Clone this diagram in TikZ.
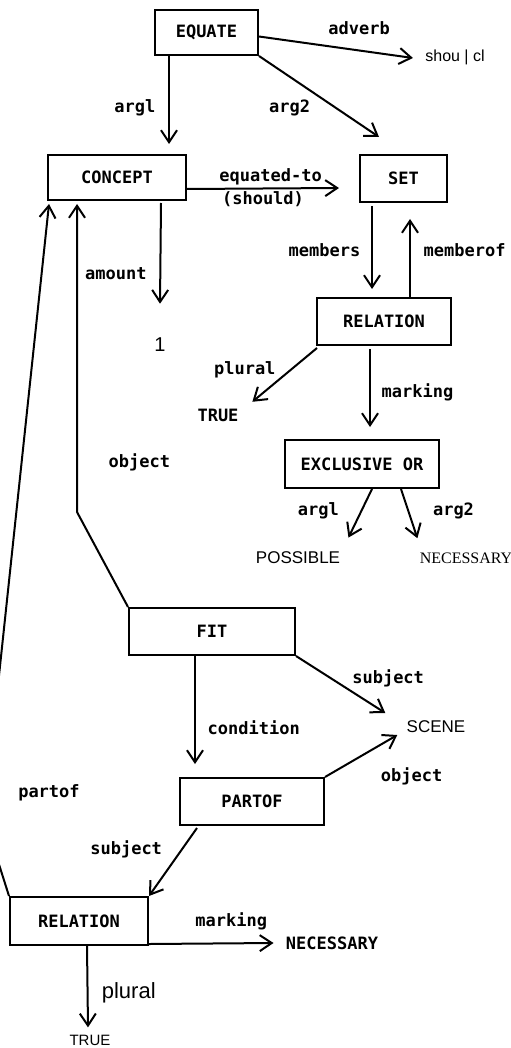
\documentclass[tikz,border=0pt]{standalone}
\usepackage{fontspec}
\setmonofont{DejaVu Sans Mono}
\newfontfamily\arialf{Liberation Sans}
\newfontfamily\timesf{Liberation Serif}
\usetikzlibrary{arrows.meta,calc}

\begin{document}
\begin{tikzpicture}[x=0.5pt, y=-0.5pt,
  font=\ttfamily\bfseries\fontsize{8.5}{10}\selectfont,
  box/.style={draw, line width=1pt, minimum height=23.5pt, inner sep=0pt},
  sans/.style={inner sep=0pt, font=\arialf\fontsize{8.5}{10}\selectfont},
  arr/.style={line width=1pt, -{Straight Barb[length=6pt,width=8pt]}}]
\useasboundingbox (0,0) rectangle (510,1048);
\clip (0,0) rectangle (510,1048);
\node[box, minimum width=51.5pt, minimum height=22.5pt](equate) at (206.5,32.5){EQUATE};
\node[box, minimum width=69pt, minimum height=22.5pt](concept) at (117,177.5){CONCEPT};
\node[box, minimum width=43.5pt](set) at (403.5,178.5){SET};
\node[box, minimum width=67pt](rel) at (384,321.5){RELATION};
\node[box, minimum width=77pt, minimum height=24pt](xor) at (362,464){EXCLUSIVE OR};
\node[box, minimum width=83pt](fit) at (212,631.5){FIT};
\node[box, minimum width=72pt](partof) at (252,801.5){PARTOF};
\node[box, minimum width=69pt, minimum height=24pt](relb) at (79,921){RELATION};
\node[sans, font=\arialf\fontsize{8}{9}\selectfont](shou) at (455,57){shou | cl};
\node[inner sep=0pt](truea) at (218,415){TRUE};
\node[sans, font=\arialf\fontsize{10}{11}\selectfont](one) at (160,345){1};
\node[sans](poss) at (298,558){POSSIBLE};
\node[inner sep=0pt, font=\timesf\fontsize{8}{9}\selectfont](neca) at (466,558){NECESSARY};
\node[sans](scene) at (436,727){SCENE};
\node[inner sep=0pt](necb) at (332,943){NECESSARY};
\node[sans, font=\arialf\fontsize{7.5}{8}\selectfont](trueb) at (90,1040){TRUE};
\draw[arr] ($(equate.east)+(0,4)$) -- ($(shou.west)+(-12,1)$) node[pos=.65, above=4pt]{adverb};
\draw[arr] ($(equate.south west)+(15,0)$) -- ($(concept.north west)+(122,-10)$) node[pos=.59, left=3pt]{argl};
\draw[arr] (equate.south east) -- ($(set.north west)+(20,-17)$) node[pos=.64, left=9pt]{arg2};
\draw[arr] ($(concept.south east)+(0,-12)$) -- ($(set.west)+(-20,9.5)$) node[pos=.55, above, inner sep=1pt]{equated-to} node[pos=.5, below, inner sep=1pt]{(should)};
\draw[arr] ($(concept.south east)+(-26,2)$) -- ($(one.north)+(0,-34)$) node[pos=.7, left=3pt]{amount};
\draw[arr] ($(set.south west)+(13,3)$) -- ($(rel.north west)+(56,-8)$) node[pos=.53, left=2pt]{members};
\draw[arr] ($(rel.north west)+(94,0)$) -- ($(set.south west)+(51,16)$) node[pos=.6, right=3pt]{memberof};
\draw[arr] ($(rel.south west)+(1,2)$) -- ($(truea.north east)+(13.5,-6.5)$) node[pos=.4, left=4pt]{plural};
\draw[arr] ($(rel.south west)+(54,3)$) -- ($(xor.north west)+(86,-12)$) node[pos=.56, right=2pt]{marking};
\draw[arr] ($(xor.south west)+(88,0)$) -- ($(poss.north east)+(8,-14)$) node[pos=.45, left=7.5pt]{argl};
\draw[arr] ($(xor.south west)+(117,0)$) -- ($(neca.north west)+(-2,-14)$) node[pos=.45, right=8.5pt]{arg2};
\draw[arr] (fit.north west) -- ($(fit.north west)+(-51,-95)$) -- ($(concept.south west)+(30,3)$) node[pos=.16, right=12pt]{object};
\draw[arr] (relb.north west) -- ($(relb.north west)+(-25,-79)$) -- ($(concept.south west)+(2,3)$) node[pos=.04, right=12pt]{partof};
\draw[arr] ($(fit.south west)+(67,0)$) -- ($(partof.north west)+(16,-13)$) node[pos=.66, right=2.5pt]{condition};
\draw[arr] (fit.south east) -- ($(scene.west)+(-21,-14)$) node[pos=.5, right=2pt, yshift=3pt]{subject};
\draw[arr] (partof.north east) -- ($(scene.west)+(-9,8)$) node[pos=.5, right=6pt, yshift=-10pt]{object};
\draw[arr] ($(partof.south west)+(18,2)$) -- (relb.north east) node[pos=.32, left=6pt]{subject};
\draw[arr] ($(relb.south east)+(0,-2)$) -- ($(necb.west)+(-12,0)$) node[pos=.66, above=3pt]{marking};
\draw[arr] ($(relb.south west)+(78,0)$) -- ($(trueb.north)+(-2,-7)$) node[pos=.58, right=3.3pt, font=\arialf\fontsize{11}{12}\selectfont]{plural};
\end{tikzpicture}
\end{document}
